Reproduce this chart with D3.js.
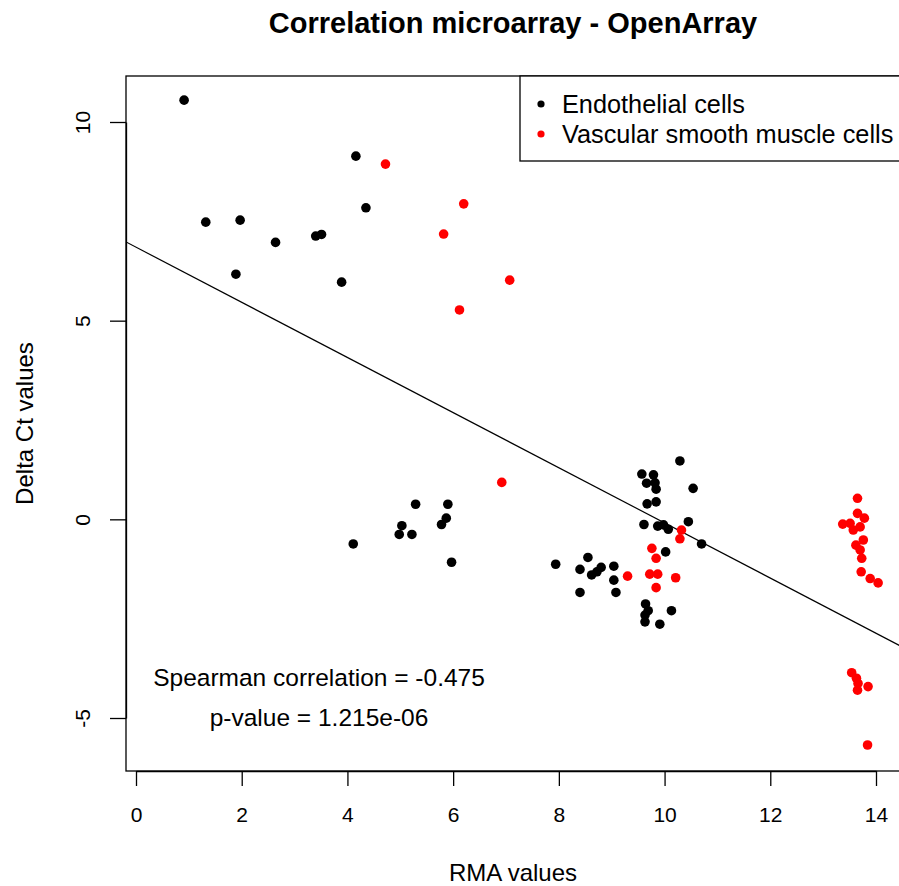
<!DOCTYPE html>
<html>
<head>
<meta charset="utf-8">
<script src="https://cdn.jsdelivr.net/npm/d3@7"></script>
<style>
  body { margin: 0; background: #fff; }
  svg { display: block; font-family: "Liberation Sans", Arial, sans-serif; }
  .axis path, .axis line { stroke: #000; stroke-width: 1.3; }
  .axis text { fill: #000; font-size: 21px; font-family: "Liberation Sans", Arial, sans-serif; }
</style>
</head>
<body>
<div id="chart"></div>
<script>
"use strict";

// values
const endoX = [0.91, 4.16, 4.35, 1.32, 1.97, 2.64, 3.40, 3.51, 1.89, 3.89,
  5.29, 5.90, 5.87, 5.78, 5.03, 4.98, 5.22, 5.97, 7.94, 4.11,
  10.29, 9.57, 9.79, 9.66, 9.82, 9.84, 10.54, 9.67, 9.84, 9.61,
  9.87, 9.98, 10.07, 10.45, 10.70, 10.02, 8.55, 8.40, 8.62, 8.72,
  8.80, 9.04, 9.04, 8.40, 9.08, 9.64, 9.69, 9.63, 9.63, 10.13, 9.91];
const endoY = [10.55, 9.14, 7.84, 7.48, 7.53, 6.97, 7.13, 7.17, 6.17, 5.97,
  0.38, 0.38, 0.03, -0.13, -0.16, -0.38, -0.38, -1.08, -1.13, -0.62,
  1.47, 1.14, 1.12, 0.91, 0.92, 0.76, 0.78, 0.39, 0.44, -0.13,
  -0.17, -0.14, -0.25, -0.06, -0.62, -0.82, -0.96, -1.26, -1.40, -1.32,
  -1.21, -1.18, -1.53, -1.84, -1.84, -2.13, -2.30, -2.41, -2.58, -2.30, -2.64];

const vsmcX = [4.72, 6.20, 5.82, 7.07, 6.12, 6.92, 10.32, 10.29, 9.76, 9.84,
  9.30, 9.72, 9.87, 10.21, 9.84, 13.65, 13.65, 13.78, 13.51, 13.57,
  13.70, 13.76, 13.62, 13.70, 13.73, 13.72, 13.89, 14.04, 13.37,
  13.54, 13.63, 13.66, 13.65, 13.85, 13.84];
const vsmcY = [8.94, 7.94, 7.18, 6.02, 5.27, 0.93, -0.27, -0.49, -0.73, -0.98,
  -1.43, -1.38, -1.38, -1.47, -1.72, 0.53, 0.15, 0.03, -0.10, -0.27,
  -0.19, -0.52, -0.65, -0.77, -0.98, -1.32, -1.49, -1.60, -0.12,
  -3.86, -4.00, -4.13, -4.30, -4.21, -5.68];

// fitted line: intercept, slope
const fitLine = [6.85, -0.694];

const xTicks = [0, 2, 4, 6, 8, 10, 12, 14];
const yTicks = [-5, 0, 5, 10];

const seriesNames = ["Endothelial cells", "Vascular smooth muscle cells"];
const seriesColors = ["#000000", "#ff0000"];

const titleText = "Correlation microarray - OpenArray";
const xLabel = "RMA values";
const yLabel = "Delta Ct values";
const statLines = ["Spearman correlation = -0.475", "p-value = 1.215e-06"];

(function () {
  let width = 899, height = 886;
  let box = { left: 126, right: 900, top: 76, bottom: 771 };

  let svg = d3.select('#chart').append('svg')
    .attr('width', width)
    .attr('height', height);

  let xScale = d3.scaleLinear().domain([0, 14]).range([136, 876]);
  let yScale = d3.scaleLinear().domain([-5, 10]).range([718, 122]);

  svg.append('clipPath').attr('id', 'plot-clip')
    .append('rect')
    .attr('x', box.left).attr('y', box.top)
    .attr('width', box.right - box.left)
    .attr('height', box.bottom - box.top);

  // regression line
  let x0 = xScale.invert(box.left), x1 = xScale.invert(box.right);
  svg.append('line')
    .attr('clip-path', 'url(#plot-clip)')
    .attr('x1', xScale(x0)).attr('y1', yScale(fitLine[0] + fitLine[1] * x0))
    .attr('x2', xScale(x1)).attr('y2', yScale(fitLine[0] + fitLine[1] * x1))
    .style('stroke', '#000')
    .style('stroke-width', 1.2);

  // points
  let series = [
    endoX.map((d, i) => [d, endoY[i]]),
    vsmcX.map((d, i) => [d, vsmcY[i]])
  ];
  series.forEach(function (pts, s) {
    svg.append('g').selectAll('circle')
      .data(pts)
      .enter()
      .append('circle')
      .attr('cx', d => xScale(d[0]))
      .attr('cy', d => yScale(d[1]))
      .attr('r', 4.8)
      .style('fill', seriesColors[s]);
  });

  // box
  svg.append('rect')
    .attr('x', box.left).attr('y', box.top)
    .attr('width', box.right - box.left)
    .attr('height', box.bottom - box.top)
    .style('fill', 'none')
    .style('stroke', '#000')
    .style('stroke-width', 1.3);

  // axes
  let xAxis = d3.axisBottom(xScale).tickValues(xTicks).tickSize(15).tickPadding(21).tickSizeOuter(0);
  svg.append('g')
    .attr('class', 'axis')
    .attr('transform', 'translate(0,' + box.bottom + ')')
    .call(xAxis);

  let yAxis = d3.axisLeft(yScale).tickValues(yTicks).tickSize(16).tickSizeOuter(0)
    .tickFormat(d => d < 0 ? '-' + Math.abs(d) : d);
  let gy = svg.append('g')
    .attr('class', 'axis')
    .attr('transform', 'translate(' + box.left + ',0)')
    .call(yAxis);
  gy.selectAll('text')
    .attr('x', null).attr('dy', null)
    .attr('text-anchor', 'middle')
    .attr('dominant-baseline', 'central')
    .attr('transform', 'translate(-44,0) rotate(-90)');

  // titles
  svg.append('text')
    .attr('x', (box.left + box.right) / 2)
    .attr('y', 33)
    .attr('text-anchor', 'middle')
    .style('font-size', '29px')
    .style('font-weight', 'bold')
    .text(titleText);

  svg.append('text')
    .attr('x', (box.left + box.right) / 2)
    .attr('y', 881)
    .attr('text-anchor', 'middle')
    .style('font-size', '24px')
    .text(xLabel);

  svg.append('text')
    .attr('text-anchor', 'middle')
    .attr('transform', 'translate(33,' + (box.top + box.bottom) / 2 + ') rotate(-90)')
    .style('font-size', '24px')
    .text(yLabel);

  // stats text
  statLines.forEach(function (t, i) {
    svg.append('text')
      .attr('x', 319)
      .attr('y', 686 + i * 40)
      .attr('text-anchor', 'middle')
      .style('font-size', '24.5px')
      .text(t);
  });

  // legend
  let legend = svg.append('g').attr('transform', 'translate(520,' + box.top + ')');
  legend.append('rect')
    .attr('width', 420).attr('height', 85)
    .style('fill', '#fff')
    .style('stroke', '#000')
    .style('stroke-width', 1.3);
  seriesNames.forEach(function (name, i) {
    legend.append('circle')
      .attr('cx', 21).attr('cy', 28 + i * 30)
      .attr('r', 3.6)
      .style('fill', seriesColors[i]);
    legend.append('text')
      .attr('x', 42).attr('y', 37 + i * 30)
      .style('font-size', '25.3px')
      .text(name);
  });
})();
</script>
</body>
</html>
